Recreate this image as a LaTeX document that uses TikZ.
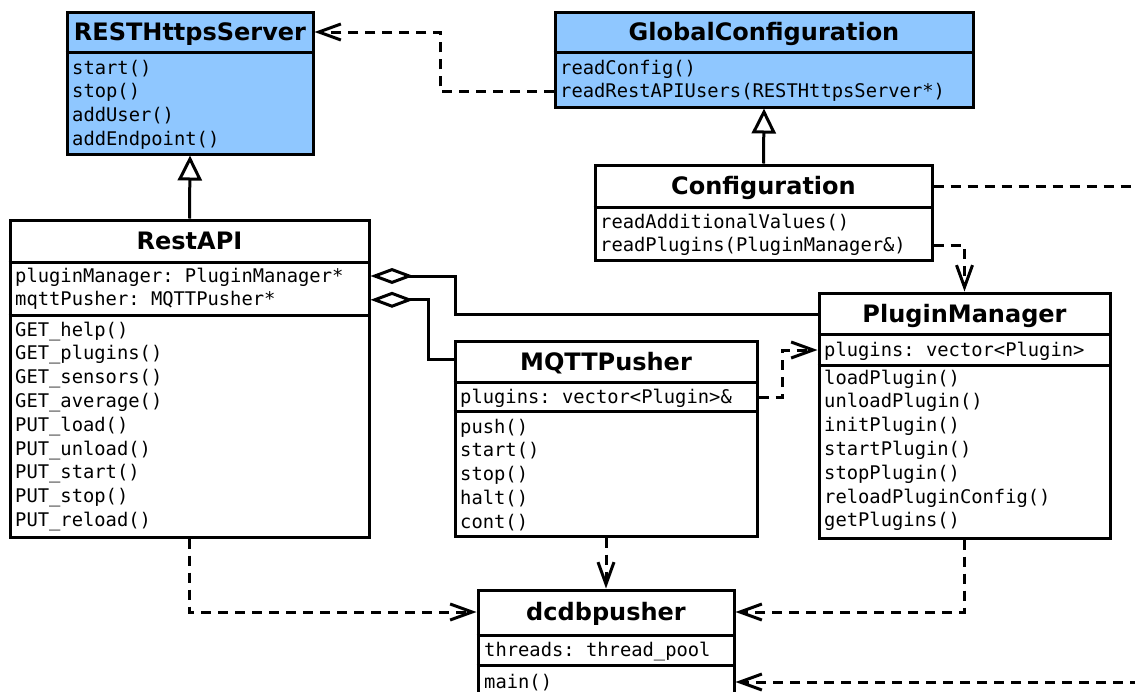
\documentclass[tikz,border=0pt]{standalone}
\usepackage{fontspec}
\setmainfont{DejaVu Sans}
\setsansfont{DejaVu Sans}
\setmonofont{DejaVu Sans Mono}
\usetikzlibrary{arrows.meta,calc}
\definecolor{clsblue}{RGB}{143,199,255}

\tikzset{
  umlbox/.style={draw, line width=3pt, inner sep=0pt},
  ttl/.style={font=\fontsize{24}{27}\selectfont\sffamily\bfseries, inner sep=0pt,
              text height=17pt, text depth=0pt, anchor=center},
  row/.style={font=\fontsize{18.8}{22}\selectfont\ttfamily, inner sep=0pt,
              text height=14pt, text depth=2pt, anchor=base west},
  sep/.style={line width=3pt},
  dashl/.style={line width=3pt, dash pattern=on 10pt off 7pt},
  dep/.style={dashl, -{Straight Barb[length=22pt,width=16pt]}},
  gen/.style={line width=3pt, -{Triangle[open, length=25pt, width=24pt]}},
  aggr/.style={line width=3pt, -{Diamond[open, length=43pt, width=16pt]}},
}

% class box from corner (x1,y1) to (x2,y2), y measured downwards
\newcommand\clsbox[6]{%
  \node[umlbox, fill=#6, minimum width={#4-#2}, minimum height={#5-#3}]
    (#1) at ({(#2+#4)/2},{-(#3+#5)/2}) {};}
% compartment rows: name prefix, left x, first baseline, entries
\newcommand\clsrows[4]{%
  \foreach \t [count=\i] in {#4} {\node[row] (#1-\i) at (#2,{-(#3+(\i-1)*23.8)}) {\t};}}
% horizontal compartment separator
\newcommand\clssep[2]{\draw[sep] (#1.west |- 0,-#2) -- (#1.east |- 0,-#2);}

\begin{document}
\begin{tikzpicture}[x=1pt,y=1pt]
\useasboundingbox (0,0) rectangle (1135,-691);
\clip (0,0) rectangle (1135,-691);
\fill[white] (0,0) rectangle (1135,-691);

% ---------- RESTHttpsServer ----------
\clsbox{rs}{67}{12}{313}{154}{clsblue}
\node[ttl] (rsT) at ($(rs.north)+(0,-21.5)$) {RESTHttpsServer};
\clssep{rs}{52}
\clsrows{rsm}{72}{74}{start(),stop(),addUser(),addEndpoint()}

% ---------- GlobalConfiguration ----------
\clsbox{gc}{555}{12}{973}{107}{clsblue}
\node[ttl] (gcT) at ($(gc.north)+(0,-21.5)$) {GlobalConfiguration};
\clssep{gc}{52}
\clsrows{gcm}{560}{74}{readConfig(),readRestAPIUsers(RESTHttpsServer*)}

% ---------- Configuration ----------
\clsbox{cf}{595}{165}{932}{260}{white}
\node[ttl] (cfT) at ($(cf.north)+(0,-22.5)$) {Configuration};
\clssep{cf}{207}
\clsrows{cfm}{600}{228}{readAdditionalValues(),readPlugins(PluginManager\&)}

% ---------- RestAPI ----------
\clsbox{ra}{10}{220}{369}{537}{white}
\node[ttl] (raT) at ($(ra.north)+(0,-22.5)$) {RestAPI};
\clssep{ra}{262}
\clssep{ra}{315}
\clsrows{raa}{15}{282}{pluginManager: PluginManager*,mqttPusher: MQTTPusher*}
\clsrows{ram}{15}{336}{GET\_help(),GET\_plugins(),GET\_sensors(),GET\_average(),PUT\_load(),PUT\_unload(),PUT\_start(),PUT\_stop(),PUT\_reload()}

% ---------- PluginManager ----------
\clsbox{pm}{819}{293}{1110}{538}{white}
\node[ttl] (pmT) at ($(pm.north)+(0,-22.5)$) {PluginManager};
\clssep{pm}{334}
\clssep{pm}{365}
\clsrows{pma}{824}{356}{plugins: vector<Plugin>}
\clsrows{pmm}{824}{384}{loadPlugin(),unloadPlugin(),initPlugin(),startPlugin(),stopPlugin(),reloadPluginConfig(),getPlugins()}

% ---------- MQTTPusher ----------
\clsbox{mq}{455}{341}{757}{536}{white}
\node[ttl] (mqT) at ($(mq.north)+(0,-22.5)$) {MQTTPusher};
\clssep{mq}{382}
\clssep{mq}{411}
\clsrows{mqa}{460}{403}{plugins: vector<Plugin>\&}
\clsrows{mqm}{460}{433}{push(),start(),stop(),halt(),cont()}

% ---------- dcdbpusher ----------
\clsbox{dc}{478}{590}{734}{705}{white}
\node[ttl] (dcT) at ($(dc.north)+(0,-23.5)$) {dcdbpusher};
\clssep{dc}{635}
\clssep{dc}{665}
\clsrows{dca}{484}{656}{threads: thread\_pool}
\clsrows{dcm}{484}{688}{main()}

% ---------- bend points ----------
\coordinate (kGC) at (440,0);
\coordinate (kPM) at (455,0);
\coordinate (kMQ) at (428,-359);
\coordinate (kMP) at (782,0);
\coordinate (outCf) at (1140,0);
\coordinate (outDc) at (1140,0);

% ---------- connectors ----------
\draw[gen] (ra.north) -- (rs.south);
\draw[gen] (cf.north) -- (gc.south);

\draw[dep] (gc.west |- gcm-2) -- (kGC |- gcm-2) -- (kGC |- rsT) -- (rs.east |- rsT);

\draw[aggr] (pm.west |- pmT) -- (kPM |- pmT) -- (kPM |- raa-1) -- (ra.east |- raa-1);
\draw[aggr] (mq.west |- kMQ) -- (kMQ) -- (kMQ |- raa-2) -- (ra.east |- raa-2);

\draw[dep] (mq.east |- mqa-1) -- (kMP |- mqa-1) -- (kMP |- pma-1) -- (pm.west |- pma-1);
\draw[dep] (cf.east |- cfm-2) -| (pm.north);
\draw[dashl] (cf.east |- cfT) -- (outCf |- cfT);

\draw[dep] (ra.south) |- (dc.west |- dcT);
\draw[dep] (mq.south) -- (dc.north);
\draw[dep] (pm.south) |- (dc.east |- dcT);
\draw[dep] (outDc |- dcm-1) -- (dc.east |- dcm-1);
\end{tikzpicture}
\end{document}
